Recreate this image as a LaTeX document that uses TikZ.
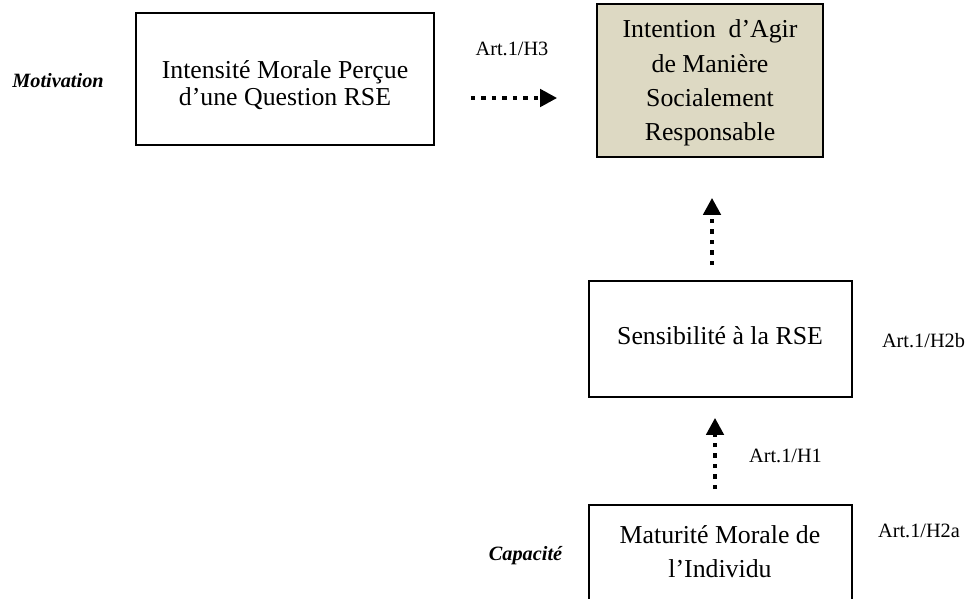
\documentclass[tikz,border=0pt]{standalone}
\usepackage{fontspec}
\setmainfont{Liberation Serif}
\usetikzlibrary{arrows.meta,calc}
\definecolor{boxtan}{RGB}{221,217,195}
\tikzset{
 box/.style={draw=black, line width=1.6pt, inner sep=0pt},
 txt/.style={inner sep=0pt, anchor=base, font=\fontsize{25.8}{34.5}\selectfont},
 lbl/.style={inner sep=0pt, anchor=base, font=\fontsize{20.3}{24}\selectfont},
 cat/.style={inner sep=0pt, anchor=base, font=\fontsize{20.3}{24}\selectfont\bfseries\itshape},
 arr/.style={line width=4.5pt, dash pattern=on 4.5pt off 6pt, -{Triangle[length=17pt,width=17pt]}},
}
\begin{document}
\begin{tikzpicture}[x=1pt,y=-1pt]
\clip (0,0) rectangle (968,598);
\fill[white] (0,0) rectangle (968,598);
% boxes
\node[box, minimum width=298pt, minimum height=132pt] (imp) at (285,79) {};
\node[box, fill=boxtan, minimum width=226pt, minimum height=153pt] (int) at (710,80.5) {};
\node[box, minimum width=263pt, minimum height=116pt] (sen) at (720.5,339) {};
\node[box, minimum width=263pt, minimum height=140pt] (mat) at (720.5,575) {};
% box texts
\node[txt] (imp1) at (285,78) {Intensité Morale Perçue};
\node[txt] (imp2) at (285,105) {d’une Question RSE};
\node[txt] (int1) at (710,37) {Intention~ d’Agir};
\node[txt] (int2) at (710,72) {de Manière};
\node[txt] (int3) at (710,106) {Socialement};
\node[txt] (int4) at (710,140) {Responsable};
\node[txt] (sen1) at (720,344) {Sensibilité à la RSE};
\node[txt] (mat1) at (720,543) {Maturité Morale de};
\node[txt] (mat2) at (720,577) {l’Individu};
% connectors
\draw[arr] ($(imp.east)+(36,19)$) -- ($(int.west)+(-39,17.5)$);
\draw[arr] ($(sen.north)+(-8.5,-15)$) -- ($(int.south)+(2,40)$);
\draw[arr] ($(mat.north)+(-5.5,-15)$) -- ($(sen.south)+(-5.5,20)$);
% labels
\node[lbl] (h3) at (512,55) {Art.1/H3};
\node[lbl] (h2b) at (923.5,347) {Art.1/H2b};
\node[lbl] (h1) at (785.5,462) {Art.1/H1};
\node[lbl] (h2a) at (919,537) {Art.1/H2a};
\node[cat] (mot) at (58,87) {Motivation};
\node[cat] (cap) at (525.5,560) {Capacité};
\end{tikzpicture}
\end{document}
